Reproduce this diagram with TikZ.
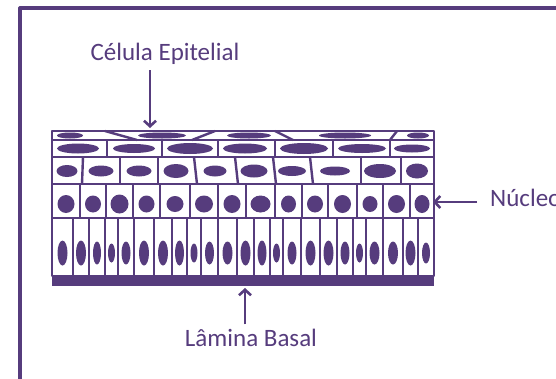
\documentclass[tikz,border=0pt]{standalone}
\usepackage{fontspec}
\setmainfont{Carlito}
\usetikzlibrary{arrows.meta}
\definecolor{tissue}{RGB}{86,60,125}

\begin{document}
\begin{tikzpicture}
  [x=1pt,y=-1pt,line join=round,
   cell/.style={draw=tissue,line width=2.4pt},
   label/.style={text=tissue,font=\fontsize{25}{30}\selectfont,inner sep=2pt},
   pointer/.style={draw=tissue,line width=2.6pt,-{Straight Barb[length=5.5pt,width=12pt]}}]

  \useasboundingbox (0,0) rectangle (556,378);
  \fill[white] (0,0) rectangle (556,378);

  % frame round the figure
  \draw[tissue,line width=3.2pt] (20,400) -- (20,8) -- (600,8);

  % basal lamina
  \fill[tissue] (52,276) rectangle (434,286);

  % layers of the epithelium
  \draw[cell] (52,131) rectangle (434,276);
  \foreach \y in {140,157,184,218}
    \draw[cell] (52,\y) -- (434,\y);

  % squamous cells on top
  \foreach \t/\b in {105/137,215/192,275/293,397/390}
    \draw[cell] (\t,131) -- (\b,140);
  \foreach \x/\rx in {70/13,162/24,249/22,345/26,418/11}
    \fill[tissue] (\x,135.5) ellipse ({\rx} and 3);

  % flattened cells
  \foreach \x in {107,162,218,275,333,390}
    \draw[cell] (\x,140) -- (\x,157);
  \foreach \x/\rx/\ry in {78/21/5,134/21/4.5,190/23/5.5,245/22/5,304/24/5.5,362/24/4.5,412/18/4}
    \fill[tissue] (\x,148.5) ellipse ({\rx} and {\ry});

  % polyhedral cells
  \foreach \t/\b in {83/82,120/120,158/158,194/197,235/238,273/276,310/313,361/361,401/401}
    \draw[cell] (\t,157) -- (\b,184);
  \foreach \x/\rx/\ry in {67/10.5/6,101/12.5/5.5,139/12.5/5.5,176/12.5/7,215/11.5/5.5,254/13.5/6.5,292/14/5,335/15/4.5,380/16/7,417/11/7.5}
    \fill[tissue] (\x,171) ellipse ({\rx} and {\ry});

  % cuboidal cells
  \foreach \a/\b/\rx/\ry in {52/80/8.5/9,80/106/8/8.5,106/133/9/9.5,133/160/8/8.5,160/190/8.5/8,
    190/218/9/8.5,218/246/8.5/9,246/275/10/8.5,275/302/7.5/8.5,302/328/8/8.5,328/357/8.5/9,
    357/383/7.5/8,383/410/8.5/9,410/434/7.5/9}
  {
    \draw[cell] (\b,184) -- (\b,218);
    \fill[tissue] ({(\a+\b)/2},204) ellipse ({\rx} and {\ry});
  }

  % columnar cells
  \foreach \a/\b/\rx/\ry in {52/73/5/12.5,73/89/5/12.5,89/105/4/11.5,105/118/3.5/9.5,118/134/4.5/11.5,
    134/154/5/12.5,154/172/5/12.5,172/187/4.5/12.5,187/201/3.5/9.5,201/218/4.5/11.5,218/237/5/11.5,
    237/254/5/12.5,254/270/4.5/12.5,270/283/3.5/9.5,283/301/4.5/11.5,301/320/5/12.5,320/337/5/12.5,
    337/353/4.5/11.5,353/366/3.5/9.5,366/383/5/11.5,383/403/5/11.5,403/418/5/12.5,418/434/4/10.5}
  {
    \draw[cell] (\b,218) -- (\b,276);
    \fill[tissue] ({(\a+\b)/2},253) ellipse ({\rx} and {\ry});
  }

  % labels
  \node[label,anchor=base] (celula) at (165,60) {Célula Epitelial};
  \node[label,anchor=base west] (nucleo) at (488,206) {Núcleo};
  \node[label,anchor=base] (lamina) at (251,346) {Lâmina Basal};

  \coordinate (ep) at (150,128);
  \coordinate (nu) at (433,202);
  \coordinate (lb) at (245,288);

  \draw[pointer,shorten <=4pt] (celula.south -| ep) -- (ep);
  \draw[pointer,shorten <=11pt] (nucleo.west |- nu) -- (nu);
  \draw[pointer,shorten <=2pt] (lamina.north -| lb) -- (lb);
\end{tikzpicture}
\end{document}
